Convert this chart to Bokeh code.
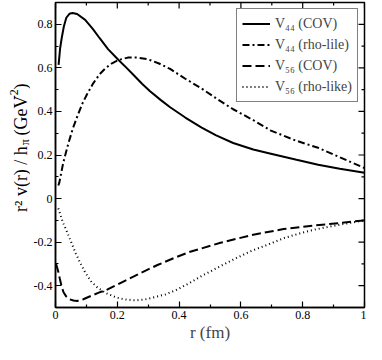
import math
from bokeh.plotting import figure
from bokeh.layouts import row
from bokeh.models import (Range1d, Legend, LegendItem, FixedTicker)
from bokeh.core.properties import value
from bokeh.embed import file_html
from bokeh.resources import INLINE

# ---- data ----
r_v44_cov = [0.01, 0.015, 0.02, 0.027, 0.035, 0.045, 0.055, 0.07, 0.096, 0.12, 0.143, 0.17,
             0.204, 0.23, 0.255, 0.28, 0.306, 0.34, 0.371, 0.42, 0.473, 0.52, 0.575, 0.64,
             0.697, 0.78, 0.85, 0.92, 1.0]
v44_cov = [0.614, 0.69, 0.736, 0.79, 0.83, 0.848, 0.852, 0.847, 0.82, 0.78, 0.736, 0.686,
           0.636, 0.6, 0.564, 0.527, 0.493, 0.453, 0.419, 0.372, 0.326, 0.29, 0.255, 0.225,
           0.206, 0.178, 0.155, 0.137, 0.119]

r_v44_rho = [0.009, 0.012, 0.025, 0.041, 0.056, 0.071, 0.087, 0.102, 0.122, 0.143, 0.163,
             0.183, 0.204, 0.234, 0.265, 0.30, 0.335, 0.371, 0.42, 0.473, 0.52, 0.575, 0.64,
             0.697, 0.78, 0.85, 0.92, 1.0]
v44_rho = [0.06, 0.071, 0.164, 0.25, 0.321, 0.379, 0.436, 0.479, 0.529, 0.571, 0.60,
           0.621, 0.636, 0.647, 0.647, 0.639, 0.62, 0.595, 0.55, 0.505, 0.46, 0.41, 0.36,
           0.312, 0.265, 0.233, 0.19, 0.14]

r_v56_cov = [0.002, 0.008, 0.014, 0.02, 0.026, 0.035, 0.045, 0.058, 0.07, 0.09, 0.116, 0.14,
             0.167, 0.218, 0.269, 0.33, 0.38, 0.432, 0.534, 0.636, 0.738, 0.84, 0.92, 1.0]
v56_cov = [-0.30, -0.33, -0.368, -0.405, -0.43, -0.45, -0.462, -0.468, -0.47, -0.462, -0.446,
           -0.432, -0.418, -0.382, -0.346, -0.305, -0.275, -0.246, -0.203, -0.167, -0.14,
           -0.123, -0.112, -0.10]

r_v56_rho = [0.009, 0.015, 0.024, 0.035, 0.045, 0.055, 0.065, 0.08, 0.096, 0.115, 0.137, 0.165,
             0.198, 0.23, 0.259, 0.29, 0.32, 0.356, 0.39, 0.432, 0.48, 0.534, 0.585, 0.636,
             0.69, 0.738, 0.79, 0.84, 0.92, 1.0]
v56_rho = [-0.045, -0.07, -0.11, -0.145, -0.18, -0.215, -0.25, -0.295, -0.339, -0.38, -0.41,
           -0.435, -0.455, -0.464, -0.467, -0.463, -0.453, -0.44, -0.42, -0.389, -0.35, -0.31,
           -0.273, -0.239, -0.21, -0.182, -0.16, -0.142, -0.12, -0.10]

x_major = [0, 0.2, 0.4, 0.6, 0.8, 1.0]
x_minor = [0.1, 0.3, 0.5, 0.7, 0.9]
x_labels = ["0", "0.2", "0.4", "0.6", "0.8", "1"]
y_major = [-0.4, -0.2, 0, 0.2, 0.4, 0.6, 0.8]
y_minor = [-0.5, -0.3, -0.1, 0.1, 0.3, 0.5, 0.7, 0.9]
y_labels = ["-0.4", "-0.2", "0", "0.2", "0.4", "0.6", "0.8"]

legend_labels = ["V\u2084\u2084 (COV)", "V\u2084\u2084 (rho-lile)",
                 "V\u2085\u2086 (COV)", "V\u2085\u2086 (rho-like)"]

ytitle_main = "r\u00b2 v(r) / h"
ytitle_sub = "\u03c0"
ytitle_unit = "(GeV"
ytitle_sup = "-2"
ytitle_close = ")"

FONT = "Liberation Serif"
X0, X1, Y0, Y1 = 0, 1, -0.5, 0.9
W_TITLE, W_MAIN, H = 30, 336, 344

p = figure(width=W_MAIN, height=H, output_backend="svg", toolbar_location=None,
           x_range=Range1d(X0, X1), y_range=Range1d(Y0, Y1),
           min_border_left=22, min_border_right=2, min_border_top=2, min_border_bottom=0)
p.title.visible = False
p.grid.visible = False
p.outline_line_color = "black"
p.outline_line_width = 1.5
p.background_fill_color = "white"
p.border_fill_color = "white"

def style_axis(ax, ticks, minor, labels):
    ax.ticker = FixedTicker(ticks=ticks, minor_ticks=minor)
    ax.major_tick_in = 6
    ax.major_tick_out = 0
    ax.minor_tick_in = 3
    ax.minor_tick_out = 0
    ax.major_tick_line_color = "black"
    ax.minor_tick_line_color = "black"
    ax.major_tick_line_width = 1.2
    ax.minor_tick_line_width = 1.2
    ax.axis_line_color = "black"
    ax.axis_line_width = 1.5
    ax.major_label_text_font = FONT
    ax.major_label_text_color = "black"
    ax.major_label_overrides = {t: s for t, s in zip(ticks, labels)}
    ax.major_label_text_font_size = "12px"
    ax.major_label_standoff = 3

style_axis(p.xaxis[0], x_major, x_minor, x_labels)
style_axis(p.yaxis[0], y_major, y_minor, y_labels)
p.xaxis[0].axis_label = "r (fm)"
p.xaxis[0].axis_label_text_font = FONT
p.xaxis[0].axis_label_text_font_size = "17px"
p.xaxis[0].axis_label_text_font_style = "normal"
p.xaxis[0].axis_label_standoff = 1

# inward ticks on the top and right frame edges, placed at the tick values
tick_kw = dict(line_color="black", line_width=1.2, length_units="screen")
p.ray(x=x_major, y=[Y1] * len(x_major), length=6, angle=-math.pi / 2, **tick_kw)
p.ray(x=x_minor, y=[Y1] * len(x_minor), length=3, angle=-math.pi / 2, **tick_kw)
p.ray(x=[X1] * len(y_major), y=y_major, length=6, angle=math.pi, **tick_kw)
p.ray(x=[X1] * len(y_minor), y=y_minor, length=3, angle=math.pi, **tick_kw)

r1 = p.line(r_v44_cov, v44_cov, line_color="black", line_width=2)
r2 = p.line(r_v44_rho, v44_rho, line_color="black", line_width=2, line_dash="7 3 2 3")
r3 = p.line(r_v56_cov, v56_cov, line_color="black", line_width=2, line_dash="9 4")
r4 = p.line(r_v56_rho, v56_rho, line_color="black", line_width=2, line_dash="1 3")

legend = Legend(items=[LegendItem(label=l, renderers=[r]) for l, r in
                       zip(legend_labels, [r1, r2, r3, r4])],
                location="top_right")
legend.label_text_font = FONT
legend.label_text_font_size = "14px"
legend.label_height = 19
legend.glyph_height = 19
legend.glyph_width = 28
legend.spacing = 2
legend.padding = 5
legend.margin = 6
legend.border_line_color = "black"
legend.border_line_width = 1.2
legend.background_fill_alpha = 1
p.add_layout(legend)

# narrow strip holding the rotated y-axis title (with sub/superscripts)
t = figure(width=W_TITLE, height=H, output_backend="svg", toolbar_location=None,
           x_range=Range1d(0, W_TITLE), y_range=Range1d(0, H), min_border=0)
t.title.visible = False
t.axis.visible = False
t.grid.visible = False
t.outline_line_color = None
t.background_fill_color = "white"
t.border_fill_color = "white"
bx, by = 20, 182   # baseline position of the title split point (pixels in the strip)
tk = dict(angle=math.pi / 2, text_font=value(FONT), text_color="black",
          text_baseline="alphabetic")
t.text(x=[bx], y=[by], text=[ytitle_main], text_align="right", text_font_size="18px", **tk)
t.text(x=[bx + 4], y=[by + 1], text=[ytitle_sub], text_align="left", text_font_size="12px", **tk)
t.text(x=[bx], y=[by + 12], text=[ytitle_unit], text_align="left", text_font_size="18px", **tk)
t.text(x=[bx - 7], y=[by + 53], text=[ytitle_sup], text_align="left", text_font_size="12px", **tk)
t.text(x=[bx], y=[by + 64], text=[ytitle_close], text_align="left", text_font_size="18px", **tk)

layout = row(t, p, spacing=0)
open("out.html", "w").write(file_html(layout, INLINE))
